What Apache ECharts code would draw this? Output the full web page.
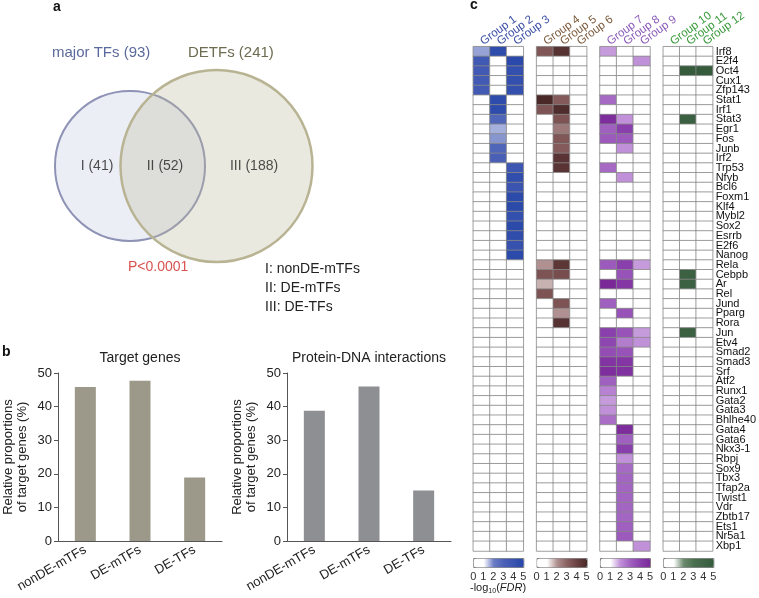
<!DOCTYPE html>
<html><head><meta charset="utf-8">
<script src="https://cdn.jsdelivr.net/npm/echarts@6/dist/echarts.min.js"></script>
<style>html,body{margin:0;padding:0;background:#fff}#c{width:759px;height:598px}</style>
</head><body><div id="c"></div>
<script>
const FONT = '"Liberation Sans", Arial, Helvetica, sans-serif';

// ---------- Panel a: Venn ----------
const vennSetNames = ['major TFs (93)', 'DETFs (241)'];
const vennCircles = [[130, 166, 75], [216.5, 166, 96]];          // cx, cy, r (venn units)
const vennRegionLabels = ['I (41)', 'II (52)', 'III (188)'];
const vennRegionPos = [[97, 166], [165, 166], [254, 166]];
const vennLegend = ['I: nonDE-mTFs', 'II: DE-mTFs', 'III: DE-TFs'];
const vennP = 'P<0.0001';

// ---------- Panel b: bars ----------
const barCategories = ['nonDE-mTFs', 'DE-mTFs', 'DE-TFs'];
const targetGenes = [45.8, 47.7, 18.9];
const proteinDNA = [38.8, 46.0, 15.0];

// ---------- Panel c: heatmap ----------
const genes = ['Irf8','E2f4','Oct4','Cux1','Zfp143','Stat1','Irf1','Stat3','Egr1','Fos','Junb','Irf2','Trp53','Nfyb','Bcl6','Foxm1','Klf4','Mybl2','Sox2','Esrrb','E2f6','Nanog','Rela','Cebpb','Ar','Rel','Jund','Pparg','Rora','Jun','Etv4','Smad2','Smad3','Srf','Atf2','Runx1','Gata2','Gata3','Bhlhe40','Gata4','Gata6','Nkx3-1','Rbpj','Sox9','Tbx3','Tfap2a','Twist1','Vdr','Zbtb17','Ets1','Nr5a1','Xbp1'];
const groupNames = ['Group 1','Group 2','Group 3','Group 4','Group 5','Group 6','Group 7','Group 8','Group 9','Group 10','Group 11','Group 12'];
// -log10(FDR) per group (cells not listed are 0)
const group1 = {Irf8:1.7, E2f4:3.6, Oct4:3.5, Cux1:3.5, Zfp143:3.5};
const group2 = {Irf8:4.6, Stat1:4.6, Irf1:4.6, Stat3:2.8, Egr1:1.6, Fos:1.8, Junb:2.8, Irf2:3.0};
const group3 = {E2f4:4.8, Oct4:4.3, Cux1:4.3, Zfp143:4.3, Trp53:3.8, Nfyb:4.4, Bcl6:4.0, Foxm1:4.7, Klf4:4.7, Mybl2:4.3, Sox2:4.7, Esrrb:4.5, E2f6:4.2, Nanog:4.7};
const group4 = {Irf8:3.3, Stat1:5.0, Irf1:3.4, Rela:2.0, Cebpb:3.4, Ar:1.7, Rel:3.4};
const group5 = {Irf8:4.6, Stat1:3.2, Irf1:4.8, Stat3:3.4, Egr1:2.5, Fos:3.3, Junb:3.2, Irf2:4.5, Trp53:4.5, Rela:4.4, Cebpb:3.6, Jund:3.4, Pparg:2.0, Rora:4.6};
const group6 = {};
const group7 = {Irf8:1.9, Stat1:2.8, Stat3:4.8, Egr1:3.0, Fos:3.2, Trp53:2.8, Rela:3.2, Ar:5.0, Jund:3.0, Jun:4.0, Etv4:3.8, Smad2:3.6, Smad3:4.5, Srf:4.8, Atf2:3.0, Runx1:2.3, Gata2:1.9, Gata3:2.0, Bhlhe40:2.7};
const group8 = {Stat3:2.0, Egr1:4.0, Fos:3.2, Junb:2.0, Nfyb:2.0, Rela:4.0, Cebpb:3.4, Ar:4.4, Pparg:3.4, Jun:3.4, Etv4:2.4, Smad2:3.4, Smad3:4.4, Srf:4.6, Gata4:4.8, Gata6:3.0, 'Nkx3-1':4.0, Rbpj:2.0, Sox9:2.8, Tbx3:2.9, Tfap2a:2.9, Twist1:2.9, Vdr:2.9, Zbtb17:2.9, Ets1:3.0, Nr5a1:3.2};
const group9 = {E2f4:2.0, Rela:1.9, Jun:1.9, Etv4:2.0, Xbp1:2.0};
const group10 = {};
const group11 = {Oct4:5.0, Stat3:4.5, Cebpb:4.4, Ar:4.4, Jun:4.4};
const group12 = {Oct4:5.0};
const groups = [group1, group2, group3, group4, group5, group6, group7, group8, group9, group10, group11, group12];
const scaleTicks = [0, 1, 2, 3, 4, 5];

const blockColors = ['#3b4fa6', '#7d5b3d', '#8b5bb8', '#3c9b3c'];
const palettes = [
  ['#ffffff', '#ffffff', '#6a7cc4', '#4a60b6', '#3a54b0', '#2646a8'],
  ['#ffffff', '#ffffff', '#b09090', '#8a6060', '#6a4040', '#4a2828'],
  ['#ffffff', '#ffffff', '#c090d8', '#a060c0', '#8a40ac', '#7a2898'],
  ['#ffffff', '#ffffff', '#6a8a6c', '#4a7050', '#3f6446', '#355a3c']
];

// ---------- layout ----------
const HM_LEFT = 473.3, HM_STEP = 63.33, HM_W = 50, HM_TOP = 46.7, HM_H = 504.3;

const grids = [], xAxes = [], yAxes = [], series = [], visualMaps = [];

// Venn grid (0)
grids.push({left: 0, top: 0, width: 470, height: 300});
xAxes.push({gridIndex: 0, type: 'value', min: 0, max: 470, show: false});
yAxes.push({gridIndex: 0, type: 'value', min: 0, max: 300, inverse: true, show: false});
const vennStyles = [
  {fill: '#eceef6', stroke: '#8e93b6', lineWidth: 2},
  {fill: 'rgba(185,181,150,0.30)', stroke: '#b8b493', lineWidth: 2.5}
];
series.push({
  type: 'custom', xAxisIndex: 0, yAxisIndex: 0, silent: true,
  data: vennCircles,
  renderItem: function (params, api) {
    const c = api.coord([api.value(0), api.value(1)]);
    const r = api.size([api.value(2), 0])[0];
    return {type: 'circle', shape: {cx: c[0], cy: c[1], r: r}, style: vennStyles[params.dataIndex]};
  }
});
series.push({
  type: 'scatter', xAxisIndex: 0, yAxisIndex: 0, symbolSize: 0, silent: true,
  data: vennRegionPos.map((p, i) => ({value: p, name: vennRegionLabels[i]})),
  label: {show: true, position: 'inside', formatter: '{b}', fontFamily: FONT, fontSize: 14, color: '#222'}
});

// Bar grids (1,2)
function barAxes(gi, left) {
  grids.push({left: left, top: 373, width: 164, height: 168});
  xAxes.push({gridIndex: gi, type: 'category', data: barCategories,
    axisLine: {lineStyle: {color: '#555', width: 1}}, axisTick: {show: false},
    axisLabel: {rotate: 30, interval: 0, margin: 8, fontFamily: FONT, fontSize: 13, color: '#222'}});
  yAxes.push({gridIndex: gi, type: 'value', min: 0, max: 50, interval: 10,
    name: 'Relative proportions\nof target genes (%)', nameLocation: 'middle', nameGap: 29, nameRotate: 90,
    nameTextStyle: {fontFamily: FONT, fontSize: 13, lineHeight: 14, color: '#222'},
    axisLine: {show: true, lineStyle: {color: '#555', width: 1}}, axisTick: {show: true, length: 4, lineStyle: {color: '#555'}},
    splitLine: {show: false},
    axisLabel: {fontFamily: FONT, fontSize: 13, color: '#222', margin: 6}});
}
barAxes(1, 58);
barAxes(2, 287);
series.push({type: 'bar', xAxisIndex: 1, yAxisIndex: 1, data: targetGenes, barWidth: 21, itemStyle: {color: '#9c988a'}, silent: true});
series.push({type: 'bar', xAxisIndex: 2, yAxisIndex: 2, data: proteinDNA, barWidth: 21, itemStyle: {color: '#8e8f92'}, silent: true});

// Heatmap grids (3..6)
for (let b = 0; b < 4; b++) {
  const gi = 3 + b;
  grids.push({left: HM_LEFT + b * HM_STEP, top: HM_TOP, width: HM_W, height: HM_H});
  xAxes.push({gridIndex: gi, type: 'category', position: 'top', data: groupNames.slice(b * 3, b * 3 + 3),
    axisLine: {show: false}, axisTick: {show: false}, splitLine: {show: false},
    axisLabel: {rotate: -36, interval: 0, margin: 4,
      fontFamily: FONT, fontSize: 11.5, color: blockColors[b]}});
  yAxes.push({gridIndex: gi, type: 'category', data: genes, inverse: true, position: 'right',
    axisLine: {show: false}, axisTick: {show: false}, splitLine: {show: false},
    axisLabel: {show: b === 3, interval: 0, margin: 3, fontFamily: FONT, fontSize: 11, color: '#111'}});
  const data = [];
  for (let c = 0; c < 3; c++) {
    const g = groups[b * 3 + c];
    genes.forEach((gene, r) => data.push([c, r, g[gene] || 0]));
  }
  series.push({type: 'heatmap', xAxisIndex: gi, yAxisIndex: gi, data: data, silent: true,
    itemStyle: {borderColor: '#888888', borderWidth: 0.8}, emphasis: {disabled: true}});
  visualMaps.push({type: 'continuous', min: 0, max: 5, dimension: 2, seriesIndex: 4 + b,
    orient: 'horizontal', left: HM_LEFT + b * HM_STEP, top: 558, itemWidth: 9, itemHeight: HM_W,
    calculable: false, hoverLink: false, padding: 0, borderColor: '#777', borderWidth: 1,
    inRange: {color: palettes[b]}});
}
// Colorbar tick grids (7..10)
for (let b = 0; b < 4; b++) {
  const gi = 7 + b;
  grids.push({left: HM_LEFT + b * HM_STEP, top: 558, width: HM_W, height: 9});
  xAxes.push({gridIndex: gi, type: 'value', min: scaleTicks[0], max: scaleTicks[scaleTicks.length - 1], interval: 1,
    axisLine: {show: false}, axisTick: {show: false}, splitLine: {show: false},
    axisLabel: {margin: 4, fontFamily: FONT, fontSize: 11, color: '#333', showMinLabel: true, showMaxLabel: true}});
  yAxes.push({gridIndex: gi, type: 'value', show: false, min: 0, max: 1});
}

const txt = (x, y, text, opts) => Object.assign({type: 'text', x: x, y: y, silent: true,
  style: Object.assign({text: text, font: '14px ' + FONT, fill: '#222', align: 'left', verticalAlign: 'middle'}, opts || {})});

const graphics = [
  txt(53, 7, 'a', {font: 'bold 14px ' + FONT, fill: '#111'}),
  txt(2, 352, 'b', {font: 'bold 14px ' + FONT, fill: '#111'}),
  txt(470, 5, 'c', {font: 'bold 14px ' + FONT, fill: '#111'}),
  txt(52, 53, vennSetNames[0], {font: '15px ' + FONT, fill: '#5b6a9c'}),
  txt(188, 53, vennSetNames[1], {font: '15px ' + FONT, fill: '#6d6b50'}),
  txt(128, 267, vennP, {font: '14px ' + FONT, fill: '#d9534f'}),
  txt(265, 269, vennLegend[0]),
  txt(265, 288, vennLegend[1]),
  txt(265, 307, vennLegend[2]),
  txt(140, 358, 'Target genes', {align: 'center'}),
  txt(369, 358, 'Protein-DNA interactions', {align: 'center'}),
  txt(470, 588, '-log{s|10}({i|FDR})', {font: '11px ' + FONT, fill: '#222',
    rich: {s: {fontSize: 7, fontFamily: FONT, fill: '#222', padding: [6, 0, 0, 0]}, i: {fontSize: 11, fontStyle: 'italic', fontFamily: FONT, fill: '#222'}}})
];

const chart = echarts.init(document.getElementById('c'), null, {renderer: 'canvas'});
chart.setOption({
  backgroundColor: '#ffffff',
  animation: false,
  textStyle: {fontFamily: FONT},
  grid: grids, xAxis: xAxes, yAxis: yAxes,
  visualMap: visualMaps,
  series: series,
  graphic: graphics
});
</script></body></html>
